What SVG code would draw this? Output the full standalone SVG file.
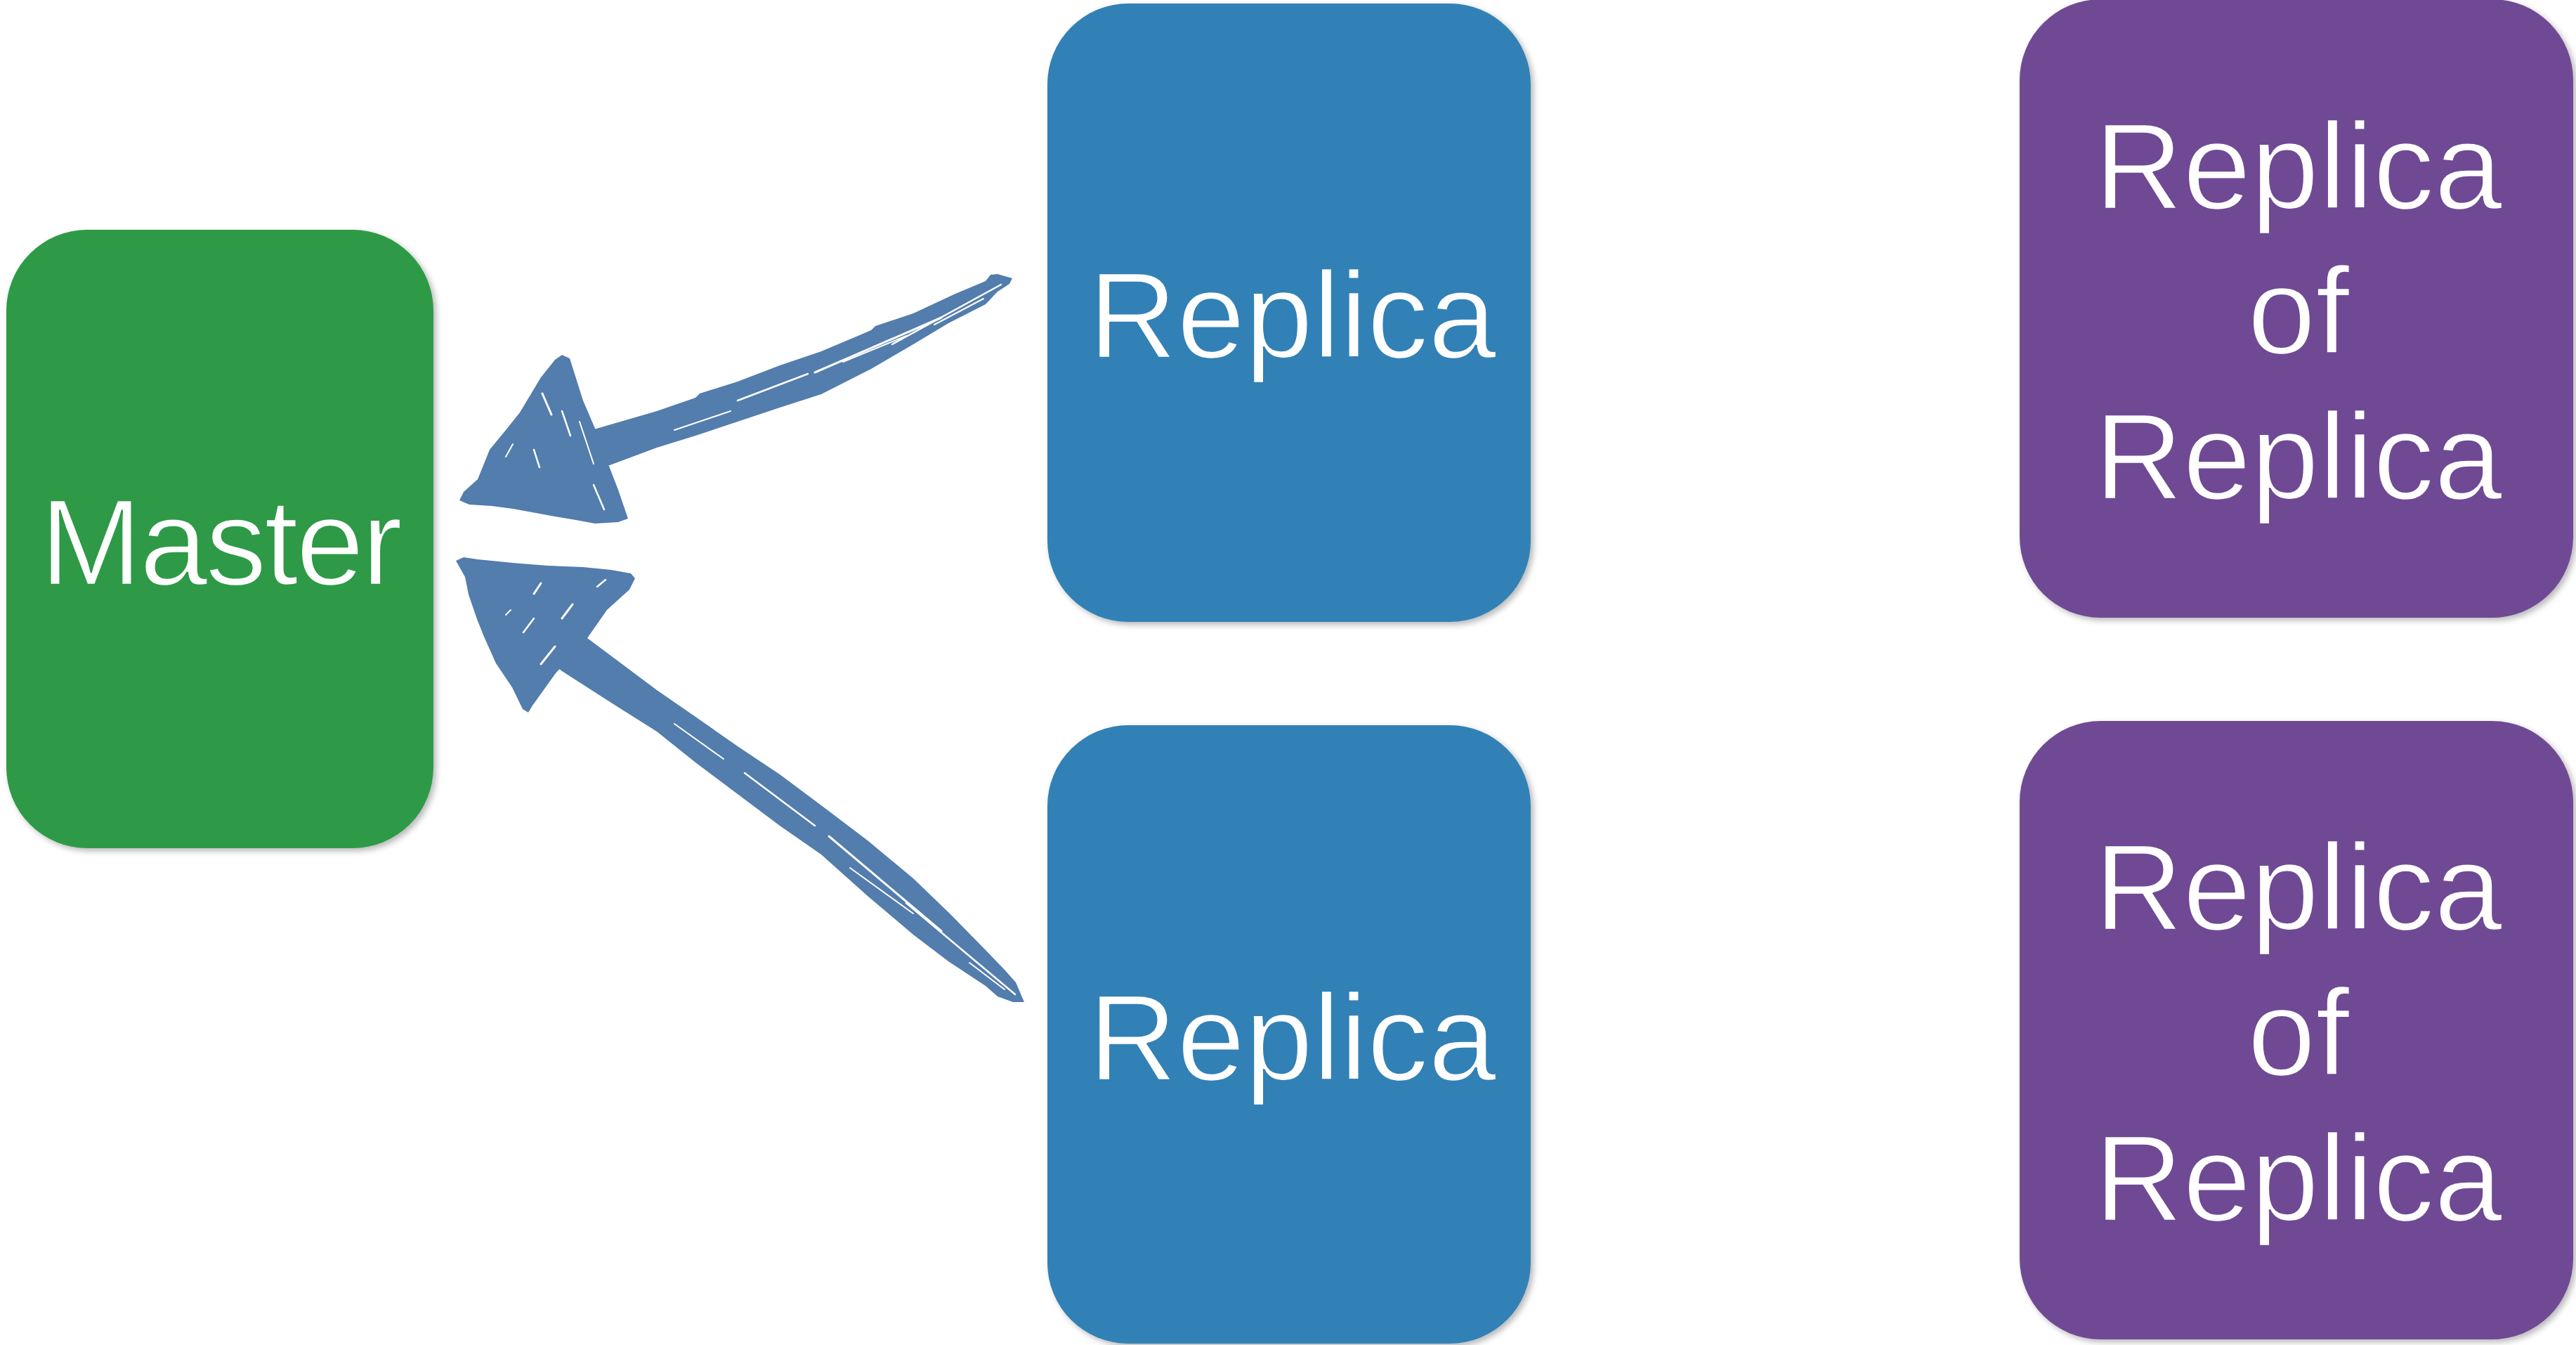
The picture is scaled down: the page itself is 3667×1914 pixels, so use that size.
<svg xmlns="http://www.w3.org/2000/svg" width="3667" height="1914" viewBox="0 0 3667 1914">
  <defs>
    <filter id="shadow" x="-5%" y="-5%" width="110%" height="110%">
      <feDropShadow dx="4" dy="4" stdDeviation="4" flood-color="#000" flood-opacity="0.28"/>
    </filter>
    <style>
      .box { filter: url(#shadow); }
      .green { fill: #2e9a46; }
      .blue { fill: #3281b6; }
      .purple { fill: #6f4a94; }
      .label { fill: #ffffff; font-family: "Liberation Sans", Arial, Helvetica, sans-serif; font-weight: 400; font-size: 174px; text-anchor: middle; stroke-width: 2.5px; stroke-linejoin: round; }
      .on-green { stroke: #2e9a46; }
      .on-blue { stroke: #3281b6; }
      .on-purple { stroke: #6f4a94; }
      .brush { fill: #527dad; }
      .streak { stroke: #ffffff; fill: none; stroke-linecap: round; }
    </style>
  </defs>
  <rect width="3667" height="1914" fill="#ffffff"/>

  <g id="connectors">
    <g id="arrow-top">
      <path class="brush" d="M826,624 L842,612 L935,585 L990,566 L996,560 L1050,543 L1110,520 L1169,500 L1240,470 L1246,464 L1300,446 L1360,418 L1403,400 L1410,391 L1420,390 L1441,396 L1437,404 L1420,415 L1403,433 L1350,460 L1300,490 L1240,525 L1169,561 L1110,580 L1050,600 L990,620 L935,637 L868,662 L846,664 Z"/>
      <path class="brush" d="M654,712 L660,700 L680,682 L697,640 L720,612 L740,587 L770,537 L790,512 L800,505 L811,510 L830,570 L848,612 L863,653 L880,697 L894,738 L880,743 L847,745 L820,740 L790,735 L763,730 L730,724 L700,720 L668,718 Z"/>
      <g class="streak">
        <path d="M1160,530 L1340,452" stroke-width="3"/>
        <path d="M1270,490 L1425,405" stroke-width="2.5"/>
        <path d="M1050,570 L1150,532" stroke-width="2.5"/>
        <path d="M1200,515 L1290,478" stroke-width="2"/>
        <path d="M1330,462 L1400,425" stroke-width="2"/>
        <path d="M960,612 L1040,585" stroke-width="2"/>
        <path d="M772,560 L785,590" stroke-width="3"/>
        <path d="M800,585 L812,620" stroke-width="2.5"/>
        <path d="M825,600 L845,660" stroke-width="2"/>
        <path d="M760,640 L768,665" stroke-width="2.5"/>
        <path d="M845,690 L860,725" stroke-width="2.5"/>
        <path d="M720,650 L730,632" stroke-width="2"/>
      </g>
    </g>
    <g id="arrow-bottom">
      <path class="brush" d="M815,900 L832,905 L935,982 L990,1020 L1050,1062 L1110,1102 L1169,1146 L1235,1196 L1300,1250 L1352,1300 L1403,1352 L1430,1380 L1446,1398 L1458,1426 L1442,1426 L1420,1418 L1403,1403 L1350,1368 L1300,1330 L1235,1275 L1169,1216 L1110,1175 L1050,1130 L990,1085 L935,1041 L870,1000 L800,955 L786,944 Z"/>
      <path class="brush" d="M649,798 L660,793 L680,796 L730,801 L780,805 L830,807 L870,811 L898,816 L904,823 L896,839 L864,868 L834,911 L791,958 L758,1004 L752,1014 L744,1009 L729,978 L706,944 L689,906 L679,881 L667,846 L662,821 Z"/>
      <g class="streak">
        <path d="M1180,1190 L1340,1325" stroke-width="3"/>
        <path d="M1290,1285 L1445,1415" stroke-width="2.5"/>
        <path d="M1060,1100 L1160,1175" stroke-width="2.5"/>
        <path d="M1210,1235 L1300,1300" stroke-width="2"/>
        <path d="M1380,1370 L1430,1408" stroke-width="2"/>
        <path d="M960,1030 L1030,1080" stroke-width="2"/>
        <path d="M770,830 L760,845" stroke-width="3"/>
        <path d="M800,880 L815,860" stroke-width="3"/>
        <path d="M745,900 L760,880" stroke-width="2.5"/>
        <path d="M770,945 L790,920" stroke-width="3"/>
        <path d="M850,835 L862,825" stroke-width="2.5"/>
        <path d="M720,875 L727,868" stroke-width="2"/>
      </g>
    </g>
  </g>

  <g id="master">
    <rect class="box green" x="9" y="327" width="608" height="880" rx="115" ry="115"/>
    <text class="label on-green" x="315" y="832" textLength="516">Master</text>
  </g>

  <g id="replica-top">
    <rect class="box blue" x="1491" y="5" width="688" height="880" rx="115" ry="115"/>
    <text class="label on-blue" x="1840" y="509">Replica</text>
  </g>

  <g id="replica-bottom">
    <rect class="box blue" x="1491" y="1032" width="688" height="880" rx="115" ry="115"/>
    <text class="label on-blue" x="1840" y="1537">Replica</text>
  </g>

  <g id="replica-of-replica-top">
    <rect class="box purple" x="2875" y="-1" width="788" height="880" rx="115" ry="115"/>
    <text class="label on-purple" x="3272" y="297">Replica</text>
    <text class="label on-purple" x="3272" y="503">of</text>
    <text class="label on-purple" x="3272" y="710">Replica</text>
  </g>

  <g id="replica-of-replica-bottom">
    <rect class="box purple" x="2875" y="1026" width="788" height="880" rx="115" ry="115"/>
    <text class="label on-purple" x="3272" y="1323">Replica</text>
    <text class="label on-purple" x="3272" y="1530">of</text>
    <text class="label on-purple" x="3272" y="1737">Replica</text>
  </g>
</svg>
